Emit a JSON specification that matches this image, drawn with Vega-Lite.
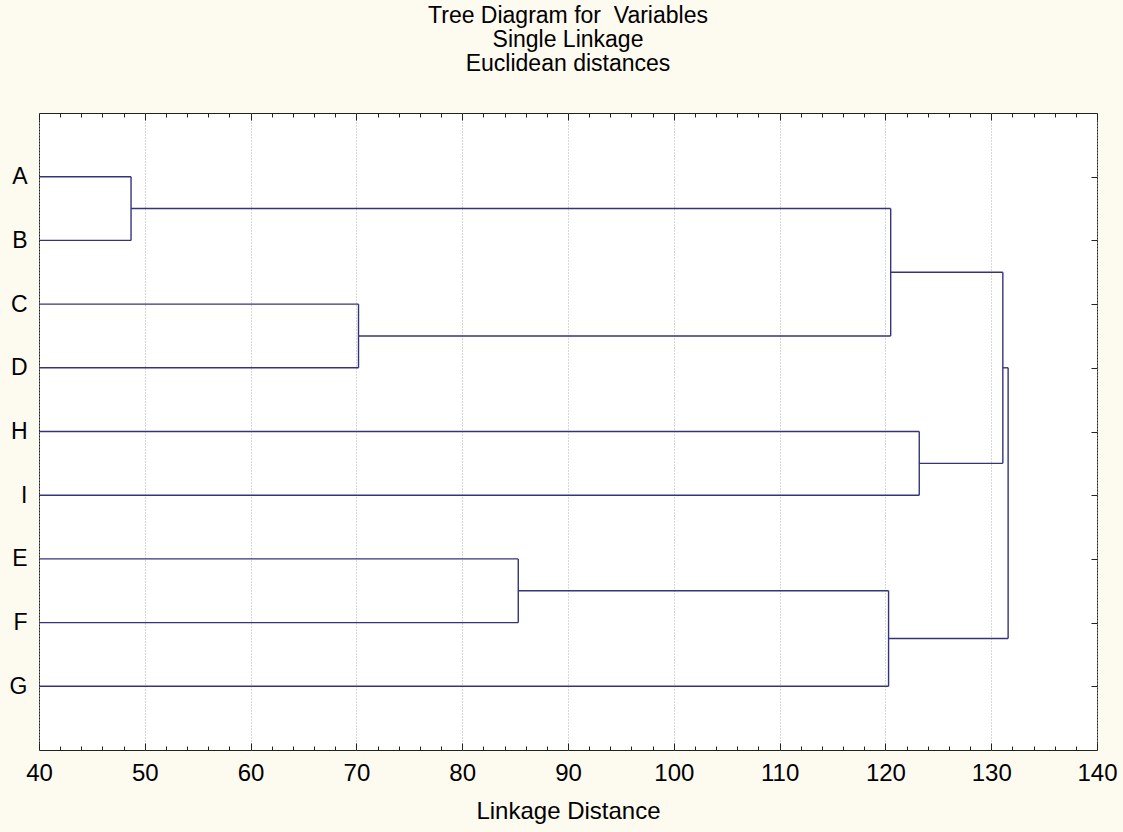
{
  "$schema": "https://vega.github.io/schema/vega-lite/v6.json",
  "width": 1058,
  "height": 637,
  "autosize": {"type": "none"},
  "padding": {"left": 39, "top": 113, "right": 26, "bottom": 82},
  "background": "#fdfaf0",
  "title": {
    "text": ["Tree Diagram for \u00a0Variables", "Single Linkage", "Euclidean distances"],
    "fontSize": 23,
    "fontWeight": "normal",
    "font": "Liberation Sans",
    "color": "#000000",
    "lineHeight": 24,
    "offset": 37,
    "anchor": "middle"
  },
  "data": {
    "values": [
      {"x": 40, "x2": 48.7, "y": 1, "y2": 1},
      {"x": 40, "x2": 48.7, "y": 2, "y2": 2},
      {"x": 48.7, "x2": 48.7, "y": 1, "y2": 2},
      {"x": 48.7, "x2": 120.5, "y": 1.5, "y2": 1.5},
      {"x": 40, "x2": 70.2, "y": 3, "y2": 3},
      {"x": 40, "x2": 70.2, "y": 4, "y2": 4},
      {"x": 70.2, "x2": 70.2, "y": 3, "y2": 4},
      {"x": 70.2, "x2": 120.5, "y": 3.5, "y2": 3.5},
      {"x": 120.5, "x2": 120.5, "y": 1.5, "y2": 3.5},
      {"x": 120.5, "x2": 131.1, "y": 2.5, "y2": 2.5},
      {"x": 40, "x2": 123.2, "y": 5, "y2": 5},
      {"x": 40, "x2": 123.2, "y": 6, "y2": 6},
      {"x": 123.2, "x2": 123.2, "y": 5, "y2": 6},
      {"x": 123.2, "x2": 131.1, "y": 5.5, "y2": 5.5},
      {"x": 131.1, "x2": 131.1, "y": 2.5, "y2": 5.5},
      {"x": 131.1, "x2": 131.6, "y": 4, "y2": 4},
      {"x": 40, "x2": 85.3, "y": 7, "y2": 7},
      {"x": 40, "x2": 85.3, "y": 8, "y2": 8},
      {"x": 85.3, "x2": 85.3, "y": 7, "y2": 8},
      {"x": 85.3, "x2": 120.3, "y": 7.5, "y2": 7.5},
      {"x": 40, "x2": 120.3, "y": 9, "y2": 9},
      {"x": 120.3, "x2": 120.3, "y": 7.5, "y2": 9},
      {"x": 120.3, "x2": 131.6, "y": 8.25, "y2": 8.25},
      {"x": 131.6, "x2": 131.6, "y": 4, "y2": 8.25}
    ]
  },
  "layer": [
    {
      "mark": {"type": "rule", "color": "#34347a", "strokeWidth": 1.4},
      "encoding": {
        "x": {
          "field": "x", "type": "quantitative",
          "scale": {"domain": [40, 140], "nice": false, "zero": false},
          "axis": {
            "orient": "bottom",
            "values": [40,42,44,46,48,50,52,54,56,58,60,62,64,66,68,70,72,74,76,78,80,82,84,86,88,90,92,94,96,98,100,102,104,106,108,110,112,114,116,118,120,122,124,126,128,130,132,134,136,138,140],
            "labelExpr": "datum.value % 10 === 0 ? datum.label : ''",
            "labelFontSize": 24,
            "labelColor": "#000000",
            "labelPadding": 18,
            "labelFlush": false,
            "labelOverlap": false,
            "tickSize": {"condition": {"test": "datum.value % 10 === 0", "value": -7}, "value": -4},
            "tickColor": "#222222",
            "domain": false,
            "grid": true,
            "gridColor": "#b0b0b0",
            "gridDash": [1, 2],
            "gridOpacity": {"condition": {"test": "datum.value % 10 === 0", "value": 1}, "value": 0},
            "title": "Linkage Distance",
            "titleFontSize": 24,
            "titleFontWeight": "normal",
            "titleColor": "#000000",
            "titlePadding": 11
          }
        },
        "x2": {"field": "x2"},
        "y": {
          "field": "y", "type": "quantitative",
          "scale": {"domain": [0, 10], "nice": false, "zero": false, "reverse": true},
          "axis": {
            "orient": "left",
            "values": [1,2,3,4,5,6,7,8,9],
            "labelExpr": "['','A','B','C','D','H','I','E','F','G'][datum.value]",
            "labelFontSize": 23,
            "labelColor": "#000000",
            "labelPadding": 12,
            "ticks": false,
            "domain": false,
            "grid": false,
            "title": null
          }
        },
        "y2": {"field": "y2"}
      }
    },
    {
      "mark": {"type": "rule", "opacity": 0},
      "encoding": {
        "x": {
          "field": "x", "type": "quantitative",
          "axis": {
            "orient": "top",
            "values": [40,42,44,46,48,50,52,54,56,58,60,62,64,66,68,70,72,74,76,78,80,82,84,86,88,90,92,94,96,98,100,102,104,106,108,110,112,114,116,118,120,122,124,126,128,130,132,134,136,138,140],
            "labels": false,
            "tickSize": {"condition": {"test": "datum.value % 10 === 0", "value": -7}, "value": -4},
            "tickColor": "#222222",
            "domain": false,
            "grid": false,
            "title": null
          }
        },
        "x2": {"field": "x2"},
        "y": {
          "field": "y", "type": "quantitative",
          "axis": {
            "orient": "right",
            "values": [1,2,3,4,5,6,7,8,9],
            "labels": false,
            "tickSize": -6,
            "tickColor": "#222222",
            "domain": false,
            "grid": false,
            "title": null
          }
        },
        "y2": {"field": "y2"}
      }
    }
  ],
  "resolve": {"axis": {"x": "independent", "y": "independent"}},
  "config": {
    "font": "Liberation Sans",
    "view": {"fill": "#ffffff", "stroke": "#222222", "strokeWidth": 1}
  }
}
